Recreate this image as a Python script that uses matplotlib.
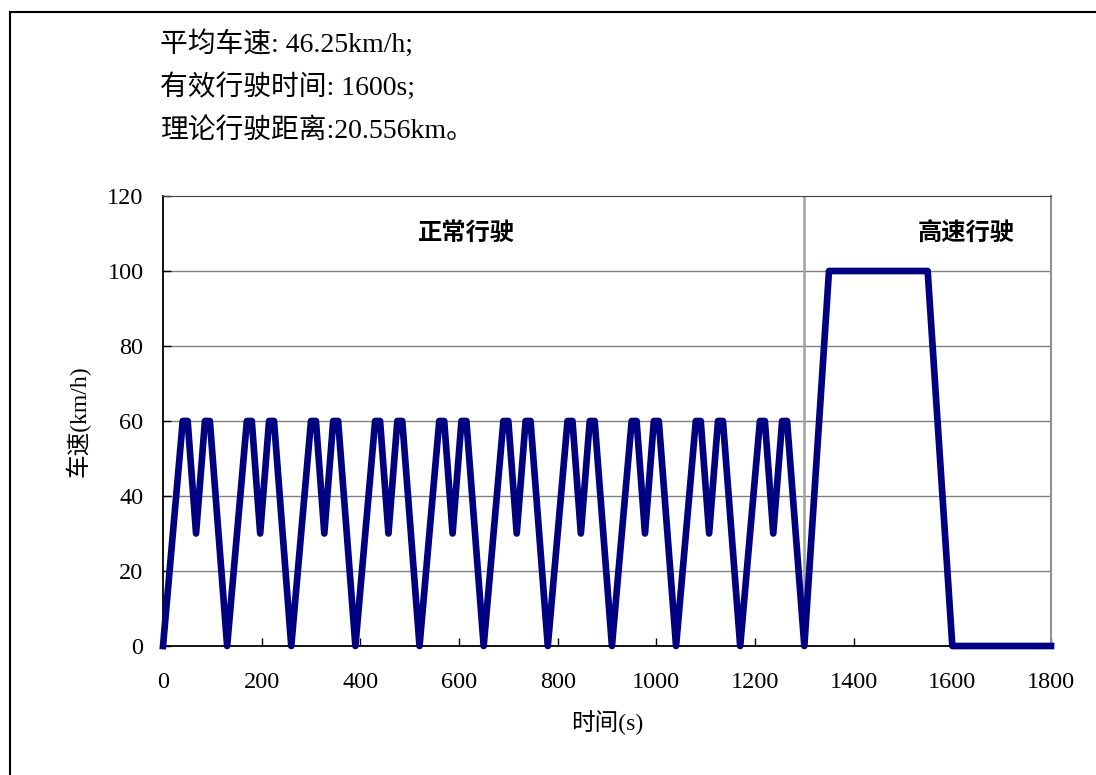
import matplotlib.pyplot as plt
from matplotlib.patches import Rectangle

# Fuentes: latin en serif, chino con Noto Sans CJK
plt.rcParams['font.family'] = ['Liberation Serif', 'Noto Sans CJK SC', 'DejaVu Sans']

# Datos: tiempo (s) y velocidad (km/h)
time_s = [0, 40, 50, 67, 85, 95,
          130, 170, 180, 197, 215, 225,
          260, 300, 310, 327, 345, 355,
          390, 430, 440, 457, 475, 485,
          520, 560, 570, 587, 605, 615,
          650, 690, 700, 717, 735, 745,
          780, 820, 830, 847, 865, 875,
          910, 950, 960, 977, 995, 1005,
          1040, 1080, 1090, 1107, 1125, 1135,
          1170, 1210, 1220, 1237, 1255, 1265,
          1300, 1350, 1550, 1600, 1800]
speed_kmh = [0, 60, 60, 30, 60, 60,
             0, 60, 60, 30, 60, 60,
             0, 60, 60, 30, 60, 60,
             0, 60, 60, 30, 60, 60,
             0, 60, 60, 30, 60, 60,
             0, 60, 60, 30, 60, 60,
             0, 60, 60, 30, 60, 60,
             0, 60, 60, 30, 60, 60,
             0, 60, 60, 30, 60, 60,
             0, 60, 60, 30, 60, 60,
             0, 100, 100, 0, 0]

x_ticks = [0, 200, 400, 600, 800, 1000, 1200, 1400, 1600, 1800]
y_ticks = [0, 20, 40, 60, 80, 100, 120]
split_time = 1300

info_lines = ['平均车速: 46.25km/h;',
              '有效行驶时间: 1600s;',
              '理论行驶距离:20.556km。']
phase_labels = ['正常行驶', '高速行驶']
phase_x = [466, 966]

W, H = 1096, 775
fig = plt.figure(figsize=(W / 100, H / 100), dpi=100)
ax = fig.add_axes([163 / W, 1 - 646 / H, (1051 - 163) / W, (646 - 196) / H])

# Marco exterior de la figura
fig.patches.append(Rectangle((10 / W, -0.1), 1.2, 1 - 12 / H + 0.1,
                             transform=fig.transFigure, fill=False,
                             edgecolor='black', linewidth=1.5))

# Texto de resumen
for i, line in enumerate(info_lines):
    fig.text(160 / W, 1 - (44 + 43.5 * i) / H, line, fontsize=20,
             ha='left', va='center')

# Rejilla y linea de separacion
for y in y_ticks[1:-1]:
    ax.axhline(y, color='#808080', linewidth=1.0, zorder=1)
ax.axvline(split_time, color='#a0a0a0', linewidth=1.8, zorder=1)

ax.plot(time_s, speed_kmh, color='#000080', linewidth=4.8,
        solid_joinstyle='round', zorder=3, clip_on=False)

ax.set_xlim(0, 1800)
ax.set_ylim(0, 120)
ax.set_xticks(x_ticks)
ax.set_yticks(y_ticks)
ax.tick_params(direction='in', length=6, width=1, labelsize=17.5)
ax.tick_params(axis='x', pad=19)
ax.tick_params(axis='y', pad=14)

for s in ['left', 'bottom']:
    ax.spines[s].set_color('black')
    ax.spines[s].set_linewidth(1.3)
ax.spines['top'].set_color('#404040')
ax.spines['right'].set_color('#909090')
ax.spines['right'].set_linewidth(1.5)

ax.set_xlabel('时间(s)', fontsize=17, labelpad=12)
ax.set_ylabel('车速(km/h)', fontsize=17, labelpad=12)

for lbl, px in zip(phase_labels, phase_x):
    fig.text(px / W, 1 - 233 / H, lbl, fontsize=17.5, fontweight='bold',
             family='Noto Sans CJK SC', ha='center', va='center')

fig.savefig('out.png', dpi=100)
